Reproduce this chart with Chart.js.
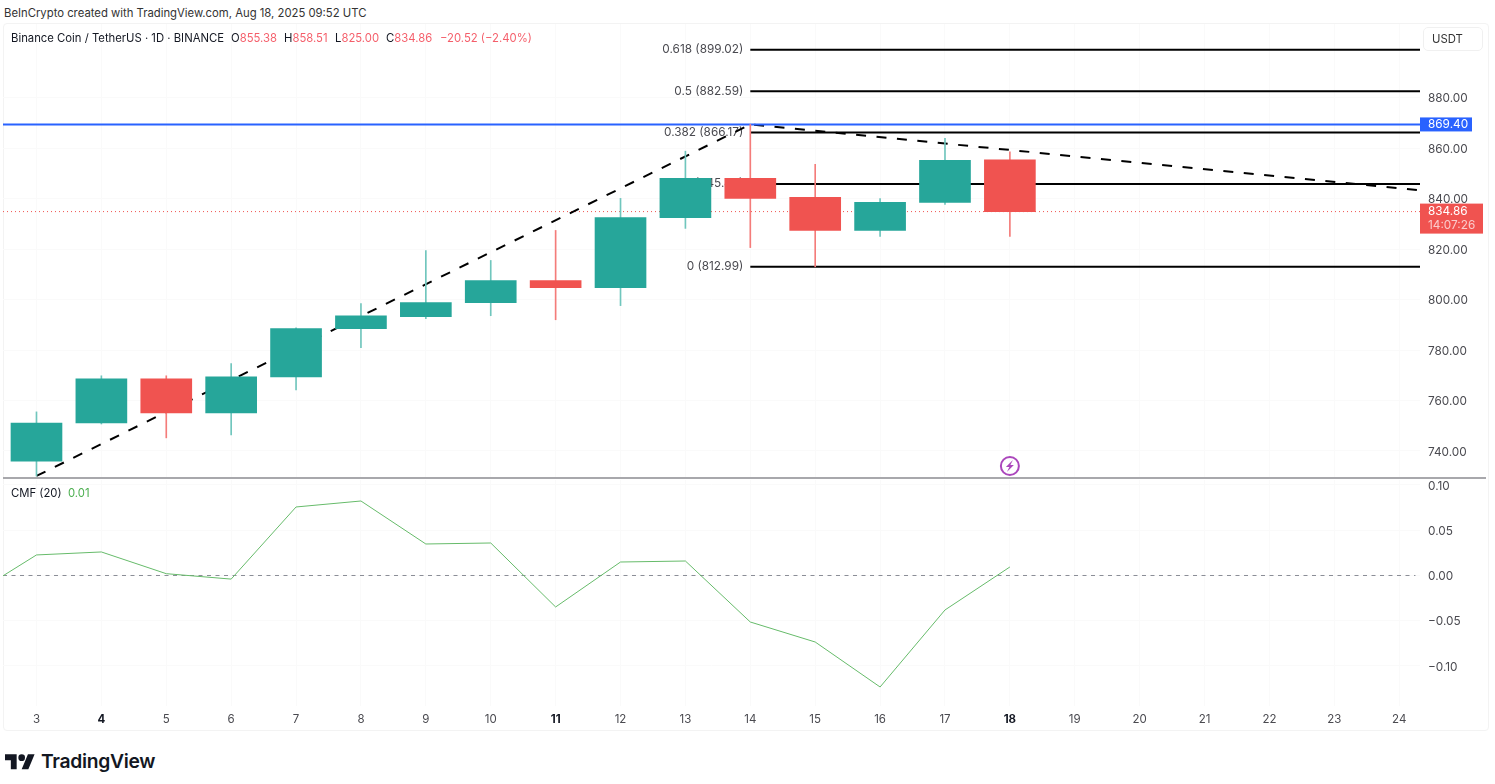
<!DOCTYPE html>
<html>
<head>
  <meta charset="utf-8">
  <title>Binance Coin / TetherUS</title>
  <script src="https://cdn.jsdelivr.net/npm/chart.js"></script>
  <style>
    body { margin: 0; background: #fff; font-family: Inter, sans-serif; color: #131722; width: 1495px; height: 784px; overflow: hidden; position: relative; }
    canvas { position: absolute; left: 0; }
    #chartPrice { top: 24px; }
    #chartCmf { top: 479px; }
    .txt { position: absolute; white-space: nowrap; font-size: 11.3px; line-height: 14px; }
    .red { color: #f23645; opacity: .8; }
    #frame { position: absolute; left: 3px; top: 23px; width: 1486px; height: 708px; border: 1px solid #f3f3f3; border-radius: 4px; box-sizing: border-box; }
    #unit { position: absolute; left: 1423px; top: 27px; width: 60px; height: 24px; box-sizing: border-box; border: 1px solid #f0f0f0; border-radius: 5px; font-size: 11.3px; line-height: 22px; padding-left: 8px; z-index: 3; color: #333; }
    #sep { position: absolute; left: 3px; top: 477px; width: 1483px; height: 2px; background: #a8a8ac; z-index: 2; }
    #logo { position: absolute; left: 5px; top: 751px; }
    #logoText { position: absolute; left: 41px; top: 748px; font-size: 19.3px; line-height: 26px; font-weight: 600; color: #131722; letter-spacing: -.3px; }
  </style>
</head>
<body>
  <div class="txt" style="left:4px;top:6px;color:#333">BeInCrypto created with TradingView.com, Aug 18, 2025 09:52 UTC</div>
  <div id="frame"></div>
  <canvas id="chartPrice" width="1495" height="455"></canvas>
  <canvas id="chartCmf" width="1495" height="252"></canvas>
  <div id="sep"></div>
  <div id="unit">USDT</div>

  <div class="txt" style="left:11px;top:31px">Binance Coin / TetherUS · 1D · BINANCE</div>
  <div class="txt" style="left:231px;top:31px">O<span class="red">855.38</span></div>
  <div class="txt" style="left:284px;top:31px">H<span class="red">858.51</span></div>
  <div class="txt" style="left:335px;top:31px">L<span class="red">825.00</span></div>
  <div class="txt" style="left:386px;top:31px">C<span class="red">834.86</span></div>
  <div class="txt red" style="left:440px;top:31px">−20.52 (−2.40%)</div>
  <div class="txt" style="left:11px;top:486px">CMF (20)</div>
  <div class="txt" style="left:68px;top:486px;color:#4caf50">0.01</div>

  <svg id="logo" width="30" height="20" viewBox="0 0 36 24"><path fill="#131722" d="M14 22H7V11H0V4h14v18zM28 22h-8l7.5-18h8L28 22z"/><circle fill="#131722" cx="20" cy="8" r="4"/></svg>
  <div id="logoText">TradingView</div>

  <script>
    // candles
    const days   = [3, 4, 5, 6, 7, 8, 9, 10, 11, 12, 13, 14, 15, 16, 17, 18];
    const opens  = [736.0, 751.1, 768.6, 755.1, 769.4, 788.5, 793.2, 798.8, 807.5, 804.7, 832.5, 848.0, 840.5, 827.4, 838.5, 855.38];
    const highs  = [755.5, 769.8, 769.8, 774.6, 788.8, 798.4, 819.4, 815.5, 827.4, 840.1, 858.8, 869.4, 853.6, 840.0, 863.9, 858.51];
    const lows   = [730.1, 750.7, 745.2, 746.4, 764.2, 780.9, 792.4, 793.6, 792.0, 797.6, 828.2, 820.6, 812.99, 825.0, 837.7, 825.0];
    const closes = [751.1, 768.6, 755.1, 769.4, 788.5, 793.6, 798.8, 807.5, 804.7, 832.5, 848.0, 840.1, 827.4, 838.5, 855.2, 834.86];

    // CMF, first point sits left of the visible range
    const cmfDays   = [2, 3, 4, 5, 6, 7, 8, 9, 10, 11, 12, 13, 14, 15, 16, 17, 18];
    const cmfValues = [-0.022, 0.0227, 0.026, 0.002, -0.004, 0.0757, 0.0823, 0.0348, 0.0359, -0.0348, 0.0149, 0.016, -0.0514, -0.0735, -0.1232, -0.0381, 0.0094];

    // fib levels
    const fibLabels = ['0.618 (899.02)', '0.5 (882.59)', '0.382 (866.17)', '0.236 (845.84)', '0 (812.99)'];
    const fibValues = [899.02, 882.59, 866.17, 845.84, 812.99];

    const trendDays   = [3, 14, 24.32];
    const trendPrices = [730.1, 869.4, 843.3];

    const resistance = 869.4;
    const lastPrice = 834.86;
    const countdown = '14:07:26';

    const tickDays  = [3, 4, 5, 6, 7, 8, 9, 10, 11, 12, 13, 14, 15, 16, 17, 18, 19, 20, 21, 22, 23, 24];
    const boldDays  = [4, 11, 18];
    const priceTicks = [740, 760, 780, 800, 820, 840, 860, 880];
    const cmfTicks  = [-0.1, -0.05, 0, 0.05, 0.1];

    const xMin = 2.484, xMax = 24.32;
    const UP = '#26a69a', DOWN = '#f05350';
    const UP_WICK = '#70c6bd', DOWN_WICK = '#f47c7a';
    const AXIS_FONT = { family: 'Inter', size: 11.8 };
    const AXIS_COLOR = '#4a4a50';
    const GRID = '#fafafa';

    const isBold = ctx => ctx.tick && boldDays.includes(ctx.tick.value);

    function xScale(showLabels) {
      return {
        type: 'linear', min: xMin, max: xMax, offset: false,
        grid: { color: GRID, drawTicks: false, offset: false },
        border: { display: false },
        afterBuildTicks: s => { s.ticks = tickDays.map(v => ({ value: v })); },
        afterFit: s => { s.height = showLabels ? 25 : 0; s.paddingLeft = 0; s.paddingRight = 0; },
        ticks: {
          display: showLabels, autoSkip: false, maxRotation: 0, padding: 7,
          color: ctx => isBold(ctx) ? '#131722' : AXIS_COLOR,
          font: ctx => ({ family: 'Inter', size: 11.5, weight: isBold(ctx) ? '700' : '400' }),
          callback: v => v
        }
      };
    }

    function yScale(min, max, tickVals, decimals) {
      return {
        position: 'right', min, max,
        grid: { color: GRID, drawTicks: false },
        border: { display: false },
        afterBuildTicks: s => { s.ticks = tickVals.map(v => ({ value: v })); },
        // no label overhang, the panes butt against each other
        afterFit: s => { s.width = 75; s.paddingTop = 0; s.paddingBottom = 0; },
        ticks: { padding: 8, labelOffset: 1, color: AXIS_COLOR, font: AXIS_FONT, callback: v => v.toFixed(decimals).replace('-', '−') }
      };
    }

    function lineSet(points, color, width, dash, order) {
      return { type: 'line', data: points, borderColor: color, borderWidth: width, borderDash: dash || [], pointRadius: 0, order };
    }

    const isUp = days.map((d, i) => closes[i] >= opens[i]);

    // fib labels go under the candles, price tags on top of the axis
    const fibLabelPlugin = {
      id: 'fibLabels',
      beforeDatasetsDraw(chart) {
        const c = chart.ctx, x = chart.scales.x, y = chart.scales.y;
        c.save();
        c.font = '11.8px Inter';
        c.fillStyle = AXIS_COLOR;
        c.textAlign = 'right';
        c.textBaseline = 'middle';
        fibLabels.forEach((t, i) => c.fillText(t, x.getPixelForValue(14) - 7, y.getPixelForValue(fibValues[i])));
        c.restore();
      }
    };

    const tagPlugin = {
      id: 'tags',
      afterDraw(chart) {
        const c = chart.ctx, x = chart.scales.x, y = chart.scales.y;
        const left = chart.chartArea.right;
        c.save();
        c.font = '11.8px Inter';
        c.textBaseline = 'middle';
        // blue level tag
        let py = y.getPixelForValue(resistance);
        c.fillStyle = '#2962ff';
        c.fillRect(left, py - 7, 52, 14);
        c.fillStyle = '#fff';
        c.fillText(resistance.toFixed(2), left + 8, py + 0.5);
        // last price + countdown
        py = y.getPixelForValue(lastPrice);
        c.fillStyle = DOWN;
        c.fillRect(left, py - 8, 63, 30);
        c.fillStyle = '#fff';
        c.fillText(lastPrice.toFixed(2), left + 8, py);
        c.fillStyle = 'rgba(255,255,255,.7)';
        c.fillText(countdown, left + 8, py + 14);
        // lightning marker on the last candle
        const ix = x.getPixelForValue(18), iy = 442;
        c.strokeStyle = '#ab47bc';
        c.lineWidth = 2;
        c.beginPath();
        c.arc(ix, iy, 9, 0, Math.PI * 2);
        c.stroke();
        c.fillStyle = '#ab47bc';
        c.beginPath();
        c.moveTo(ix + 3, iy - 6);
        c.lineTo(ix - 4, iy + 1);
        c.lineTo(ix - 0.5, iy + 1);
        c.lineTo(ix - 3, iy + 6);
        c.lineTo(ix + 4, iy - 1);
        c.lineTo(ix + 0.5, iy - 1);
        c.closePath();
        c.fill();
        c.restore();
      }
    };

    new Chart(document.getElementById('chartPrice'), {
      type: 'bar',
      data: {
        datasets: [
          // wicks
          { data: days.map((d, i) => ({ x: d, y: [lows[i], highs[i]] })), backgroundColor: isUp.map(u => u ? UP_WICK : DOWN_WICK), barThickness: 1, grouped: false, order: 2 },
          // bodies
          { data: days.map((d, i) => ({ x: d, y: [opens[i], closes[i]] })), backgroundColor: isUp.map(u => u ? UP : DOWN), barThickness: 51, grouped: false, order: 1 },
          ...fibValues.map(v => lineSet([{ x: 14, y: v }, { x: xMax, y: v }], '#000', 2, null, 5)),
          lineSet(trendDays.map((d, i) => ({ x: d, y: trendPrices[i] })), '#000', 2, [10, 10.5], 4),
          lineSet([{ x: xMin, y: resistance }, { x: xMax, y: resistance }], '#2962ff', 2, null, 3),
          lineSet([{ x: xMin, y: lastPrice }, { x: xMax, y: lastPrice }], '#f05350', 1, [1, 3], 6)
        ]
      },
      options: {
        responsive: false, animation: false,
        layout: { padding: { left: 3, top: 0, right: 0, bottom: 0 } },
        plugins: { legend: { display: false }, tooltip: { enabled: false } },
        scales: { x: xScale(false), y: yScale(728.9, 909.2, priceTicks, 2) }
      },
      plugins: [fibLabelPlugin, tagPlugin]
    });

    new Chart(document.getElementById('chartCmf'), {
      type: 'line',
      data: {
        datasets: [
          lineSet(cmfDays.map((d, i) => ({ x: d, y: cmfValues[i] })), '#66bb6a', 1, null, 1),
          lineSet([{ x: xMin, y: 0 }, { x: 24.25, y: 0 }], '#8a8d96', 1, [4, 4.5], 2)
        ]
      },
      options: {
        responsive: false, animation: false,
        layout: { padding: { left: 3, top: 1, right: 0, bottom: 0 } },
        plugins: { legend: { display: false }, tooltip: { enabled: false } },
        scales: { x: xScale(true), y: yScale(-0.1442, 0.1055, cmfTicks, 2) }
      }
    });
  </script>
</body>
</html>
